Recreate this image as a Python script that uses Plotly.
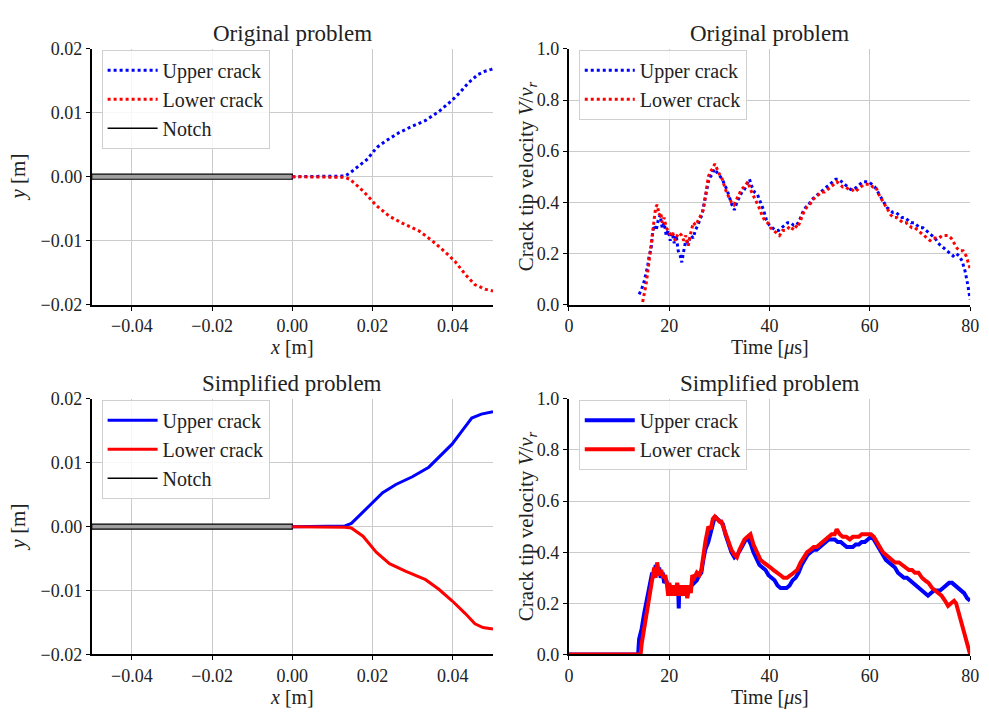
import plotly.graph_objects as go

# ---------------- data ----------------
# Crack paths, original problem
orig_up_x = [0.0, 0.004, 0.008, 0.0115, 0.0131, 0.0143, 0.0167, 0.0188, 0.0200, 0.0213, 0.0233, 0.0266, 0.0299,
             0.0332, 0.0365, 0.0397, 0.0418, 0.0439, 0.0463, 0.0480, 0.0496, 0.0500]
orig_up_y = [0.0, 0.0, 0.0, 0.0, 0.0001, 0.00056, 0.0018, 0.0028, 0.0038, 0.0047, 0.0056, 0.0069, 0.0079,
             0.0088, 0.0102, 0.0119, 0.0132, 0.0147, 0.0160, 0.0165, 0.0168, 0.0169]
orig_lo_x = [0.0, 0.004, 0.008, 0.0115, 0.0131, 0.0143, 0.0167, 0.0188, 0.0209, 0.0242, 0.0275, 0.0316, 0.0348,
             0.0381, 0.0406, 0.0431, 0.0455, 0.0480, 0.0496, 0.0500]
orig_lo_y = [0.0, 0.0, 0.0, 0.0, -0.0001, -0.0004, -0.0017, -0.0030, -0.0045, -0.0062, -0.0073, -0.0085, -0.0100,
             -0.0118, -0.0133, -0.0153, -0.0169, -0.0176, -0.0178, -0.0179]

# Crack paths, simplified problem
simp_up_x = [0.0, 0.004, 0.008, 0.0115, 0.0131, 0.0147, 0.0168, 0.0192, 0.0225, 0.0258, 0.0299, 0.0340, 0.0373,
             0.0398, 0.0422, 0.0447, 0.0471, 0.0496, 0.0500]
simp_up_y = [0.0, 0.0, 0.0, 0.0, 0.0001, 0.0005, 0.0018, 0.0033, 0.0053, 0.0066, 0.0078, 0.0093, 0.0114,
             0.0129, 0.0149, 0.0170, 0.0176, 0.0180, 0.0180]
simp_lo_x = [0.0, 0.004, 0.008, 0.0115, 0.0131, 0.0147, 0.0176, 0.0209, 0.0242, 0.0283, 0.0332, 0.0365, 0.0398,
             0.0431, 0.0455, 0.0475, 0.0496, 0.0500]
simp_lo_y = [0.0, 0.0, 0.0, 0.0, -0.0001, -0.0002, -0.0015, -0.0040, -0.0058, -0.0070, -0.0083, -0.0098, -0.0116,
             -0.0136, -0.0152, -0.0158, -0.0160, -0.0160]

# Notch outline
notch_x = [-0.05, 0.0, 0.0, -0.05, -0.05]
notch_y = [0.0004, 0.0004, -0.0004, -0.0004, 0.0004]

# Crack tip velocity, original problem
orig_up_t = [14.0, 14.5, 15.0, 15.4, 15.7, 16.0, 16.4, 16.7, 17.0, 17.4, 17.8, 18.2, 18.6, 19.0, 19.4, 19.8, 20.2,
             20.6, 21.0, 21.4, 21.8, 22.2, 22.5, 22.9, 23.3, 23.8, 24.3, 24.8, 25.2, 25.7, 26.1, 26.5, 27.0, 27.4,
             27.8, 28.2, 28.6, 29.0, 29.4, 29.8, 30.2, 30.6, 31.0, 31.5, 32.0, 32.5, 33.0, 33.5, 34.0, 34.5, 35.0,
             35.5, 36.0, 36.5, 37.0, 37.6, 38.2, 38.8, 39.4, 40.0, 40.6, 41.2, 41.8, 42.4, 43.0, 43.6, 44.2, 44.8,
             45.4, 46.0, 46.6, 47.2, 47.8, 48.4, 49.0, 49.6, 50.2, 50.8, 51.4, 52.0, 52.6, 53.2, 53.8, 54.4, 55.0,
             55.6, 56.2, 56.8, 57.4, 58.0, 58.6, 59.2, 59.8, 60.4, 61.0, 61.6, 62.2, 62.8, 63.4, 64.0, 64.6, 65.2,
             65.8, 66.4, 67.0, 67.6, 68.2, 68.8, 69.4, 70.0, 70.6, 71.2, 71.8, 72.4, 73.0, 73.6, 74.2, 74.8, 75.4,
             76.0, 76.6, 77.2, 77.8, 78.4, 79.0, 79.5, 80.0]
orig_up_v = [0.04, 0.06, 0.09, 0.12, 0.15, 0.19, 0.22, 0.28, 0.31, 0.29, 0.33, 0.35, 0.30, 0.32, 0.27, 0.29, 0.25,
             0.28, 0.24, 0.27, 0.21, 0.19, 0.165, 0.21, 0.25, 0.24, 0.27, 0.26, 0.29, 0.31, 0.33, 0.35, 0.40, 0.44,
             0.48, 0.50, 0.51, 0.53, 0.52, 0.51, 0.50, 0.49, 0.47, 0.45, 0.42, 0.39, 0.37, 0.40, 0.42, 0.44, 0.45,
             0.47, 0.49, 0.46, 0.44, 0.43, 0.40, 0.37, 0.33, 0.31, 0.30, 0.29, 0.29, 0.30, 0.31, 0.32, 0.32, 0.31,
             0.31, 0.33, 0.36, 0.38, 0.39, 0.41, 0.42, 0.43, 0.44, 0.45, 0.46, 0.47, 0.48, 0.49, 0.49, 0.48, 0.47,
             0.46, 0.45, 0.45, 0.46, 0.47, 0.48, 0.48, 0.48, 0.47, 0.46, 0.44, 0.42, 0.40, 0.38, 0.37, 0.36, 0.36,
             0.35, 0.34, 0.34, 0.33, 0.32, 0.32, 0.31, 0.30, 0.30, 0.29, 0.28, 0.27, 0.26, 0.24, 0.23, 0.22, 0.21,
             0.20, 0.19, 0.20, 0.19, 0.17, 0.13, 0.08, 0.02]
orig_lo_t = [14.7, 15.0, 15.4, 15.8, 16.2, 16.6, 17.0, 17.3, 17.6, 18.0, 18.3, 18.6, 19.0, 19.4, 19.8, 20.3, 20.7,
             21.2, 21.6, 22.0, 22.5, 22.9, 23.3, 23.8, 24.3, 24.8, 25.3, 25.8, 26.3, 26.8, 27.2, 27.5, 27.8, 28.2,
             28.6, 29.1, 29.5, 30.0, 30.4, 30.9, 31.4, 31.9, 32.4, 32.9, 33.4, 33.9, 34.4, 34.9, 35.4, 35.7, 36.2,
             36.7, 37.3, 37.9, 38.5, 39.0, 39.6, 40.2, 40.8, 41.4, 42.0, 42.6, 43.2, 43.8, 44.4, 45.0, 45.6, 46.2,
             46.8, 47.4, 48.0, 48.6, 49.2, 49.8, 50.4, 51.0, 51.6, 52.2, 52.8, 53.4, 54.0, 54.6, 55.2, 55.8, 56.4,
             57.0, 57.6, 58.2, 58.8, 59.4, 60.0, 60.6, 61.2, 61.8, 62.4, 63.0, 63.6, 64.2, 64.8, 65.4, 66.0, 66.6,
             67.2, 67.8, 68.4, 69.0, 69.6, 70.2, 70.8, 71.4, 72.0, 72.6, 73.2, 73.8, 74.4, 75.0, 75.6, 76.2, 76.8,
             77.4, 78.0, 78.6, 79.2, 79.6, 80.0]
orig_lo_v = [0.01, 0.04, 0.08, 0.14, 0.20, 0.27, 0.34, 0.38, 0.39, 0.35, 0.36, 0.32, 0.34, 0.30, 0.29, 0.27, 0.28,
             0.25, 0.27, 0.28, 0.27, 0.25, 0.27, 0.23, 0.28, 0.32, 0.31, 0.33, 0.35, 0.37, 0.42, 0.47, 0.50, 0.52,
             0.53, 0.55, 0.53, 0.51, 0.50, 0.47, 0.44, 0.42, 0.40, 0.39, 0.41, 0.43, 0.45, 0.46, 0.47, 0.48, 0.45,
             0.43, 0.41, 0.38, 0.35, 0.33, 0.32, 0.30, 0.29, 0.28, 0.27, 0.29, 0.29, 0.30, 0.29, 0.31, 0.30, 0.33,
             0.36, 0.38, 0.39, 0.41, 0.42, 0.43, 0.44, 0.44, 0.45, 0.46, 0.47, 0.48, 0.47, 0.46, 0.46, 0.45, 0.45,
             0.44, 0.45, 0.46, 0.47, 0.47, 0.47, 0.46, 0.46, 0.43, 0.41, 0.39, 0.37, 0.35, 0.34, 0.34, 0.33, 0.32,
             0.32, 0.31, 0.30, 0.30, 0.29, 0.28, 0.27, 0.26, 0.25, 0.26, 0.26, 0.26, 0.27, 0.27, 0.27, 0.26, 0.24,
             0.22, 0.21, 0.21, 0.19, 0.16, 0.14]

# Crack tip velocity, simplified problem
simp_up_t = [0.0, 13.8, 14.0, 14.5, 15.0, 15.5, 16.0, 16.3, 16.6, 17.0, 17.3, 17.7, 18.0, 18.3, 18.7, 19.0, 19.4,
             19.8, 20.2, 20.6, 21.0, 21.4, 21.8, 21.9, 22.0, 22.5, 23.0, 23.5, 24.0, 24.5, 25.0, 25.5, 26.0, 26.4,
             26.8, 27.2, 27.8, 28.3, 28.8, 29.1, 29.6, 30.1, 30.7, 31.2, 31.8, 32.4, 33.0, 33.6, 34.2, 34.8, 35.3,
             35.8, 36.3, 36.8, 37.4, 38.0, 38.6, 39.2, 39.8, 40.4, 41.0, 41.6, 42.2, 42.8, 43.4, 44.0, 44.6, 45.2,
             45.8, 46.4, 47.0, 47.6, 48.2, 48.8, 49.4, 50.0, 50.6, 51.2, 51.8, 52.4, 53.0, 53.6, 54.2, 54.8, 55.4,
             56.0, 56.6, 57.2, 57.8, 58.4, 59.0, 59.6, 60.2, 60.8, 61.4, 62.0, 62.6, 63.2, 63.8, 64.4, 65.0, 65.6,
             66.2, 66.8, 67.4, 68.0, 68.6, 69.2, 69.8, 70.4, 71.0, 71.6, 72.2, 72.8, 73.4, 74.0, 74.6, 75.2, 75.8,
             76.4, 77.0, 77.6, 78.2, 78.8, 79.4, 80.0]
simp_up_v = [0.0, 0.0, 0.06, 0.10, 0.16, 0.21, 0.25, 0.29, 0.32, 0.30, 0.35, 0.31, 0.34, 0.30, 0.32, 0.28, 0.29,
             0.26, 0.27, 0.25, 0.26, 0.25, 0.25, 0.18, 0.25, 0.24, 0.26, 0.24, 0.26, 0.27, 0.28, 0.29, 0.31, 0.32,
             0.37, 0.41, 0.44, 0.48, 0.52, 0.54, 0.53, 0.52, 0.51, 0.47, 0.43, 0.40, 0.38, 0.39, 0.41, 0.43, 0.45,
             0.45, 0.43, 0.40, 0.37, 0.35, 0.34, 0.33, 0.31, 0.30, 0.29, 0.27, 0.26, 0.26, 0.26, 0.27, 0.29, 0.30,
             0.32, 0.35, 0.37, 0.39, 0.40, 0.41, 0.41, 0.42, 0.43, 0.44, 0.45, 0.45, 0.45, 0.44, 0.44, 0.43, 0.42,
             0.42, 0.42, 0.43, 0.43, 0.44, 0.44, 0.45, 0.46, 0.45, 0.43, 0.41, 0.39, 0.37, 0.36, 0.35, 0.34, 0.32,
             0.31, 0.30, 0.30, 0.29, 0.28, 0.27, 0.26, 0.25, 0.24, 0.23, 0.24, 0.25, 0.25, 0.25, 0.26, 0.27, 0.28,
             0.28, 0.27, 0.26, 0.25, 0.24, 0.22, 0.21]
simp_lo_t = [0.0, 14.3, 14.5, 15.0, 15.5, 16.0, 16.5, 17.0, 17.3, 17.6, 18.0, 18.4, 18.8, 19.2, 19.5, 19.8, 20.0,
             20.4, 20.8, 21.2, 21.6, 22.0, 22.4, 22.8, 23.2, 23.6, 24.0, 24.3, 24.6, 25.0, 25.5, 26.0, 26.4, 26.7,
             27.2, 27.8, 28.3, 28.7, 29.1, 29.6, 30.0, 30.4, 30.9, 31.4, 31.9, 32.4, 33.0, 33.5, 34.0, 34.5, 35.0,
             35.6, 36.2, 36.8, 37.6, 38.2, 38.8, 39.6, 40.2, 40.8, 41.6, 42.2, 42.8, 43.5, 44.2, 44.8, 45.5, 46.2,
             46.8, 47.5, 48.2, 48.8, 49.4, 50.0, 50.6, 51.2, 51.8, 52.4, 53.0, 53.4, 54.0, 54.6, 55.3, 56.0, 56.6,
             57.2, 57.8, 58.4, 59.0, 59.6, 60.2, 60.8, 61.4, 62.0, 62.6, 63.2, 63.8, 64.4, 65.0, 65.8, 66.4, 67.0,
             67.8, 68.4, 69.0, 69.7, 70.4, 71.0, 71.7, 72.4, 73.0, 73.6, 74.3, 75.0, 75.6, 76.2, 76.8, 77.2, 77.6,
             78.2, 78.8, 79.4, 80.0]
simp_lo_v = [0.0, 0.0, 0.04, 0.10, 0.17, 0.23, 0.29, 0.34, 0.30, 0.36, 0.31, 0.33, 0.30, 0.31, 0.28, 0.23, 0.28,
             0.23, 0.27, 0.23, 0.28, 0.23, 0.27, 0.23, 0.27, 0.22, 0.27, 0.24, 0.31, 0.30, 0.32, 0.31, 0.33, 0.38,
             0.44, 0.50, 0.49, 0.53, 0.54, 0.53, 0.52, 0.52, 0.49, 0.46, 0.43, 0.41, 0.39, 0.38, 0.41, 0.43, 0.45,
             0.46, 0.47, 0.43, 0.39, 0.37, 0.36, 0.35, 0.34, 0.33, 0.32, 0.31, 0.30, 0.30, 0.31, 0.32, 0.33, 0.36,
             0.38, 0.40, 0.41, 0.42, 0.42, 0.43, 0.44, 0.45, 0.46, 0.47, 0.47, 0.49, 0.47, 0.46, 0.46, 0.45, 0.46,
             0.46, 0.46, 0.47, 0.47, 0.47, 0.47, 0.46, 0.44, 0.42, 0.40, 0.39, 0.38, 0.37, 0.36, 0.36, 0.35, 0.34,
             0.33, 0.33, 0.32, 0.32, 0.30, 0.29, 0.28, 0.26, 0.25, 0.24, 0.23, 0.21, 0.19, 0.20, 0.21, 0.20, 0.17,
             0.12, 0.08, 0.04, 0.0]

# Tick values / labels
pos_x_ticks = [-0.04, -0.02, 0.0, 0.02, 0.04]
pos_y_ticks = [-0.02, -0.01, 0.0, 0.01, 0.02]
vel_x_ticks = [0, 20, 40, 60, 80]
vel_y_ticks = [0.0, 0.2, 0.4, 0.6, 0.8, 1.0]

titles = ["Original problem", "Original problem", "Simplified problem", "Simplified problem"]

# ---------------- figure ----------------
FONT = "Liberation Serif"
TXT = "#222222"
BLUE = "#0000ff"
RED = "#ff0000"
GRID = "#cbcbcb"

W, H = 989, 715
fig = go.Figure()

# subplot pixel boxes (left, right, top, bottom)
boxes = {
    1: (88, 495, 40, 303),
    2: (572, 979, 40, 303),
    3: (88, 495, 400, 663),
    4: (572, 979, 400, 663),
}


def ax_names(i):
    return ("x" if i == 1 else f"x{i}"), ("y" if i == 1 else f"y{i}")


def leg_name(i):
    return "legend" if i == 1 else f"legend{i}"


# ---- position panels ----
for i, (ux, uy, lx, ly, dash, width) in {
    1: (orig_up_x, orig_up_y, orig_lo_x, orig_lo_y, "dot", 3),
    3: (simp_up_x, simp_up_y, simp_lo_x, simp_lo_y, "solid", 3),
}.items():
    xa, ya = ax_names(i)
    fig.add_trace(go.Scatter(x=notch_x, y=notch_y, mode="lines", fill="toself", fillcolor="#a0a0a0",
                             line=dict(color="black", width=1.2), xaxis=xa, yaxis=ya, showlegend=False,
                             hoverinfo="skip"))
    fig.add_trace(go.Scatter(x=ux, y=uy, mode="lines", name="Upper crack", line=dict(color=BLUE, width=width, dash=dash),
                             xaxis=xa, yaxis=ya, legend=leg_name(i)))
    fig.add_trace(go.Scatter(x=lx, y=ly, mode="lines", name="Lower crack", line=dict(color=RED, width=width, dash=dash),
                             xaxis=xa, yaxis=ya, legend=leg_name(i)))
    fig.add_trace(go.Scatter(x=[None], y=[None], mode="lines", name="Notch", line=dict(color="black", width=1.5),
                             xaxis=xa, yaxis=ya, legend=leg_name(i)))

# ---- velocity panels ----
for i, (ut, uv, lt, lv, dash, width) in {
    2: (orig_up_t, orig_up_v, orig_lo_t, orig_lo_v, "dot", 3),
    4: (simp_up_t, simp_up_v, simp_lo_t, simp_lo_v, "solid", 4),
}.items():
    xa, ya = ax_names(i)
    fig.add_trace(go.Scatter(x=ut, y=uv, mode="lines", name="Upper crack", line=dict(color=BLUE, width=width, dash=dash),
                             xaxis=xa, yaxis=ya, legend=leg_name(i)))
    fig.add_trace(go.Scatter(x=lt, y=lv, mode="lines", name="Lower crack", line=dict(color=RED, width=width, dash=dash),
                             xaxis=xa, yaxis=ya, legend=leg_name(i)))

layout = dict(
    width=W, height=H, margin=dict(l=0, r=0, t=0, b=0),
    paper_bgcolor="white", plot_bgcolor="white",
    font=dict(family=FONT, size=18, color=TXT),
    showlegend=True,
)

axis_common = dict(showgrid=True, gridcolor=GRID, gridwidth=1, zeroline=False, showline=True,
                   linecolor="black", linewidth=2, ticks="outside", ticklen=4, tickwidth=1, tickcolor="black",
                   tickfont=dict(family=FONT, size=18, color=TXT), mirror=False)

annotations = []
for i, (l, r, t, b) in boxes.items():
    xa, ya = ax_names(i)
    xkey = "xaxis" if i == 1 else f"xaxis{i}"
    ykey = "yaxis" if i == 1 else f"yaxis{i}"
    xdom = [l / W, r / W]
    ydom = [1 - b / H, 1 - t / H]
    if i in (1, 3):
        layout[xkey] = dict(axis_common, domain=xdom, range=[-0.05, 0.05], tickvals=pos_x_ticks,
                            tickformat=".2f", anchor=ya)
        layout[ykey] = dict(axis_common, domain=ydom, range=[-0.02, 0.02], tickvals=pos_y_ticks,
                            tickformat=".2f", anchor=xa)
        xlabel = "<i>x</i> [m]"
        ylabel = "<i>y</i> [m]"
        ylab_x = 13
    else:
        layout[xkey] = dict(axis_common, domain=xdom, range=[0, 80], tickvals=vel_x_ticks,
                            tickformat="d", anchor=ya)
        layout[ykey] = dict(axis_common, domain=ydom, range=[0, 1.0], tickvals=vel_y_ticks,
                            tickformat=".1f", anchor=xa)
        xlabel = "Time [<i>μ</i>s]"
        ylabel = "Crack tip velocity <i>V</i>/<i>v<sub>r</sub></i>"
        ylab_x = 529
    cx = (l + r) / 2
    # title
    annotations.append(dict(text=titles[i - 1], x=cx / W, y=1 - (t - 16) / H, xref="paper", yref="paper",
                            showarrow=False, font=dict(family=FONT, size=23, color=TXT),
                            xanchor="center", yanchor="middle"))
    # x label
    annotations.append(dict(text=xlabel, x=cx / W, y=1 - (b + 30) / H, xref="paper", yref="paper",
                            showarrow=False, font=dict(family=FONT, size=20, color=TXT),
                            xanchor="center", yanchor="top"))
    # y label
    annotations.append(dict(text=ylabel, x=ylab_x / W, y=1 - ((t + b) / 2) / H, xref="paper", yref="paper",
                            showarrow=False, textangle=-90, font=dict(family=FONT, size=21, color=TXT),
                            xanchor="center", yanchor="middle"))
    # legend
    layout[leg_name(i)] = dict(x=(l + 10) / W, y=1 - (t + 1) / H, xanchor="left", yanchor="top",
                               bgcolor="rgba(255,255,255,0.85)", bordercolor="#d0d0d0", borderwidth=1,
                               font=dict(family=FONT, size=20, color=TXT), itemwidth=50,
                               tracegroupgap=0)

layout["annotations"] = annotations
fig.update_layout(**layout)

fig.write_html("out.html")
